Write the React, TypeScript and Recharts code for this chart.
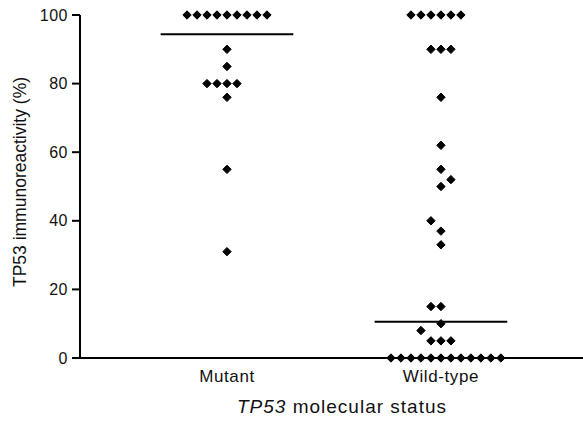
import {
  ScatterChart,
  Scatter,
  XAxis,
  YAxis,
  ReferenceLine,
  Label,
} from "recharts";

const categories = ["Mutant", "Wild-type"];

// immunoreactivity values (%) and the horizontal slot each dot sits in
const mutantValues = [100, 100, 100, 100, 100, 100, 100, 100, 100, 90, 85, 80, 80, 80, 80, 76, 55, 31];
const mutantSlots = [-4, -3, -2, -1, 0, 1, 2, 3, 4, 0, 0, -2, -1, 0, 1, 0, 0, 0];

const wildValues = [
  100, 100, 100, 100, 100, 100, 90, 90, 90, 76, 62, 55, 52, 50, 40, 37, 33, 15, 15, 10, 8, 5, 5, 5,
  0, 0, 0, 0, 0, 0, 0, 0, 0, 0, 0, 0,
];
const wildSlots = [
  -3, -2, -1, 0, 1, 2, -1, 0, 1, 0, 0, 0, 1, 0, -1, 0, 0, -1, 0, 0, -2, -1, 0, 1,
  -5, -4, -3, -2, -1, 0, 1, 2, 3, 4, 5, 6,
];

const medians = [94.4, 10.6];
const yTicks = [0, 20, 40, 60, 80, 100];

const SLOT = 0.0467;
const MEDIAN_HALF = 0.31;
const FONT = "'Liberation Sans', Arial, Helvetica, sans-serif";

const toPoints = (cat: number, values: number[], slots: number[]) =>
  values.map((v, i) => ({ x: cat + slots[i] * SLOT, y: v }));

const mutantData = toPoints(1, mutantValues, mutantSlots);
const wildData = toPoints(2, wildValues, wildSlots);

const Diamond = (props: any) => {
  const { cx, cy } = props;
  const r = 4.2;
  return (
    <path
      d={`M${cx},${cy - r}L${cx + r},${cy}L${cx},${cy + r}L${cx - r},${cy}Z`}
      fill="#000"
      stroke="#000"
      strokeWidth={1}
      strokeLinejoin="round"
    />
  );
};

const CategoryTick = (props: any) => {
  const { x, y, payload } = props;
  return (
    <text x={x} y={y} dy={16} textAnchor="middle" fontSize={17} letterSpacing={0.6} fill="#111" fontFamily={FONT}>
      {categories[payload.value - 1]}
    </text>
  );
};

export default function App() {
  return (
    <div style={{ position: "absolute", left: 0, top: 0, background: "#fff" }}>
      <ScatterChart width={583} height={434} margin={{ top: 15, right: 0, bottom: 0, left: 0 }}>
        <XAxis
          type="number"
          dataKey="x"
          domain={[0.313, 2.664]}
          ticks={[1, 2]}
          allowDataOverflow
          height={76}
          tickLine={false}
          axisLine={{ stroke: "#000", strokeWidth: 2 }}
          tick={<CategoryTick />}
        >
          <Label
            content={() => (
              <text x={342} y={413} textAnchor="middle" fontSize={19} letterSpacing={1} fill="#111" fontFamily={FONT}>
                <tspan fontStyle="italic">TP53</tspan> molecular status
              </text>
            )}
          />
        </XAxis>
        <YAxis
          type="number"
          dataKey="y"
          domain={[0, 100]}
          ticks={yTicks}
          width={80}
          tickSize={8}
          tickMargin={4}
          tickLine={{ stroke: "#000", strokeWidth: 2 }}
          axisLine={{ stroke: "#000", strokeWidth: 2 }}
          tick={{ fill: "#111", fontSize: 16, fontFamily: FONT, letterSpacing: 0.5 }}
        >
          <Label
            content={() => (
              <text
                x={20}
                y={182}
                transform="rotate(-90 20 182)"
                textAnchor="middle"
                dominantBaseline="central"
                fontSize={17.5}
                fill="#111"
                fontFamily={FONT}
              >
                TP53 immunoreactivity (%)
              </text>
            )}
          />
        </YAxis>
        {medians.map((m, i) => (
          <ReferenceLine
            key={categories[i]}
            segment={[
              { x: i + 1 - MEDIAN_HALF, y: m },
              { x: i + 1 + MEDIAN_HALF, y: m },
            ]}
            stroke="#000"
            strokeWidth={2}
          />
        ))}
        <Scatter data={mutantData} shape={<Diamond />} isAnimationActive={false} />
        <Scatter data={wildData} shape={<Diamond />} isAnimationActive={false} />
      </ScatterChart>
    </div>
  );
}
